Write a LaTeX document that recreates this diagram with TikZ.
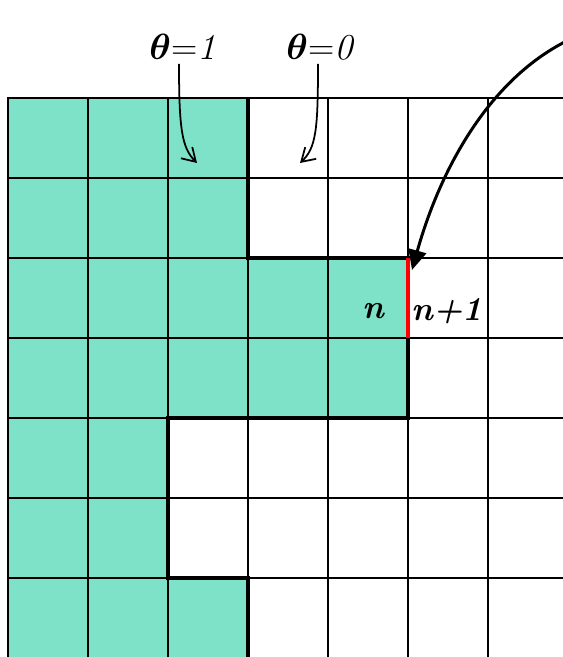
\documentclass[tikz,border=0pt]{standalone}
\usepackage{amsmath}
\usepackage{xcolor}
\usepackage{tikz}
\usetikzlibrary{
    arrows.meta,
    positioning,
    calc
}
\definecolor{phase}{RGB}{126,226,200}
\definecolor{phaseline}{RGB}{20,70,55}
\tikzset{
    gridline/.style={
        draw=black,
        line width=0.9pt
    },
    front/.style={
        draw=black,
        line width=1.8pt,
        line join=miter
    },
    border/.style={
        draw=black,
        line width=1.1pt
    },
    face/.style={
        draw=red,
        line width=2.8pt
    },
    label/.style={
        inner sep=1pt,
        font=\fontsize{20}{24}\selectfont
    },
    cell/.style={
        inner sep=1pt,
        font=\fontsize{19}{22}\selectfont\bfseries\itshape
    },
    arrow/.style={
        -{Straight Barb[length=2.6mm,width=3.2mm]},
        line width=1pt
    },
    bigarrow/.style={
        -{Triangle[length=4mm,width=3.6mm]},
        line width=1.7pt
    }
}

\begin{document}
\begin{tikzpicture}[x=0.02cm, y=-0.02cm]
\useasboundingbox (0,0) rectangle (563,657);
\clip (0,0) rectangle (563,657);

% filled cells
\fill[phase] (8,98) -- (248,98) -- (248,258) -- (408,258) -- (408,418)
  -- (168,418) -- (168,578) -- (248,578) -- (248,670) -- (8,670) -- cycle;

% grid
\foreach \x in {8,88,...,488}
  \draw[gridline] (\x,98) -- (\x,670);
\foreach \y in {98,178,...,578}
  \draw[gridline] (8,\y) -- (570,\y);

% interface
\draw[front] (248,98) -- (248,258) -- (408,258) -- (408,418)
  -- (168,418) -- (168,578) -- (248,578) -- (248,670);
\draw[border] (8,670) -- (8,98) -- (570,98);
\draw[face] (408,258) -- (408,338);

% labels
\node[label] (one) at (185,47) {$\boldsymbol{\theta}{=}\mathit{1}$};
\node[label] (zero) at (322,47) {$\boldsymbol{\theta}{=}\mathit{0}$};
\node[cell] (n) at (373,311) {n};
\node[cell] (np) at (447,311) {n+1};

\coordinate (full) at (197,163);
\coordinate (empty) at (300,163);
\coordinate (far) at (575,37);
\coordinate (corner) at (412,270);

\draw[arrow] (one.south) ++(-6,2) .. controls (179,130) and (182,148) .. (full);
\draw[arrow] (zero.south) ++(-4,2) .. controls (318,130) and (316,148) .. (empty);
\draw[bigarrow] (far) .. controls (490,75) and (440,170) .. (corner);
\end{tikzpicture}
\end{document}
